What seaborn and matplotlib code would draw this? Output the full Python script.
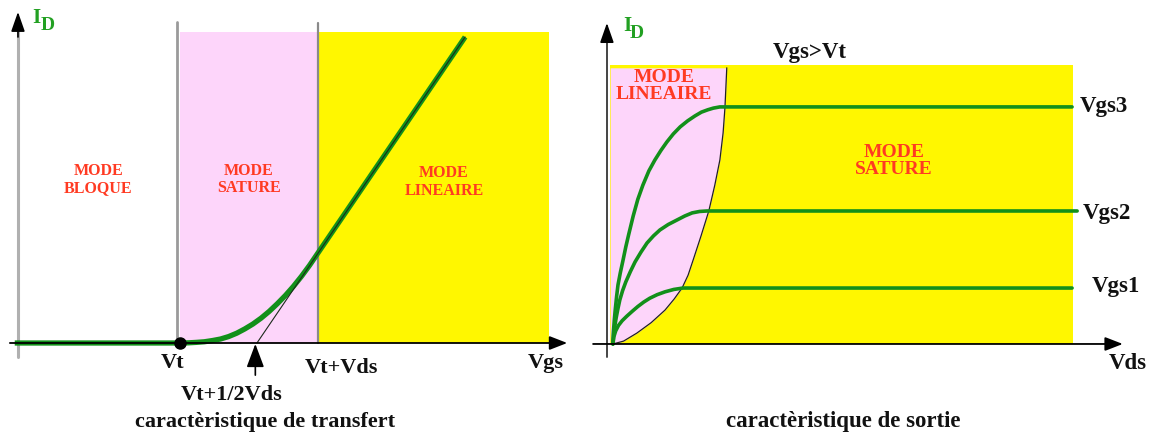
import matplotlib
matplotlib.use("Agg")
import matplotlib.pyplot as plt
import seaborn as sns
import pandas as pd

# --- data (arbitrary units: V and mA) ---
# transfer characteristic  Id = f(Vgs)
vt = 2.0
vds_sat = 1.7
vgs_top = 6.55
region_top = 10.16
transfer_vgs = [-0.04, 2.0, 2.1, 2.2, 2.3, 2.4, 2.5, 2.6, 2.7, 2.8, 2.9, 3.0,
                3.1, 3.2, 3.3, 3.4, 3.5, 3.6, 3.7, 5.52]
transfer_id = [0.0, 0.0, 0.005, 0.02, 0.04, 0.08, 0.13, 0.21, 0.32, 0.46, 0.62, 0.81,
               1.03, 1.28, 1.55, 1.85, 2.18, 2.54, 2.93, 10.0]
tangent_vgs = [2.95, 5.52]
tangent_id = [0.0, 10.0]

# output characteristic  Id = f(Vds) for three Vgs
vds_end = 10.0
out_top = 11.77
curve_names = ["Vgs1", "Vgs2", "Vgs3"]
vgs1_vds = [0.02, 0.04, 0.08, 0.14, 0.22, 0.32, 0.44, 0.56, 0.69, 0.82, 0.98, 1.15, 1.34, 1.54, 9.98]
vgs1_id = [0.0, 0.3, 0.55, 0.78, 0.98, 1.17, 1.38, 1.58, 1.77, 1.93, 2.08, 2.2, 2.3, 2.36, 2.36]
vgs2_vds = [0.02, 0.04, 0.09, 0.13, 0.17, 0.23, 0.30, 0.40, 0.50, 0.63, 0.76, 0.90,
            1.04, 1.22, 1.41, 1.58, 1.74, 1.90, 2.06, 10.09]
vgs2_id = [0.0, 0.5, 1.10, 1.5, 1.86, 2.25, 2.62, 3.06, 3.46, 3.88, 4.26, 4.56,
           4.81, 5.04, 5.23, 5.40, 5.53, 5.59, 5.61, 5.61]
vgs3_vds = [0.02, 0.03, 0.05, 0.07, 0.10, 0.13, 0.18, 0.24, 0.30, 0.36, 0.46, 0.56,
            0.67, 0.80, 0.93, 1.06, 1.19, 1.33, 1.48, 1.64, 1.80, 1.94, 2.08, 2.2, 2.34, 9.98]
vgs3_id = [0.0, 0.5, 1.0, 1.43, 2.0, 2.49, 3.0, 3.54, 4.1, 4.6, 5.4, 6.1,
           6.7, 7.3, 7.76, 8.16, 8.52, 8.86, 9.16, 9.41, 9.62, 9.78, 9.88, 9.95, 10.0, 10.0]
# boundary Vds = Vgs - Vt between linear and saturation modes
limit_vds = [0.02, 0.25, 0.54, 0.85, 1.15, 1.35, 1.52, 1.65, 1.76, 1.93, 2.10,
             2.23, 2.34, 2.41, 2.45, 2.49]
limit_id = [0.0, 0.12, 0.46, 0.9, 1.43, 1.9, 2.36, 2.9, 3.54, 4.55, 5.61,
            6.7, 7.76, 8.9, 9.96, 11.65]

sns.set_theme(style="white")
plt.rcParams["font.family"] = ["Liberation Serif", "DejaVu Serif"]
plt.rcParams["font.weight"] = "bold"

YELLOW = "#fff700"
PINK = "#fdd5fa"
GREEN = "#12901a"
RED = "#ff3a22"

fig = plt.figure(figsize=(11.58, 4.37), dpi=100)
ax1 = fig.add_axes([0, 0, 580 / 1158, 1])
ax2 = fig.add_axes([580 / 1158, 0, 578 / 1158, 1])
for ax in (ax1, ax2):
    ax.set_axis_off()


def arrow(ax, tail, tip, color="black", hl=0.9, hw=0.35, lw=1.2):
    ax.annotate("", xy=tip, xytext=tail, zorder=6,
                arrowprops=dict(arrowstyle=f"-|>,head_length={hl},head_width={hw}",
                                color=color, lw=lw, shrinkA=0, shrinkB=0))


# ---------------- left panel: transfer ----------------
ax1.set_xlim(-0.222, 6.938)
ax1.set_ylim(-3.072, 11.209)

ax1.fill_between([vt, vt + vds_sat], 0, region_top, color=PINK, lw=0, zorder=0)
ax1.fill_between([vt + vds_sat, vgs_top], 0, region_top, color=YELLOW, lw=0, zorder=0)
ax1.plot([vt - 0.04, vt - 0.04], [0, 10.5], color="#9a9a9a", lw=2, zorder=1)
ax1.plot([vt + vds_sat, vt + vds_sat], [0, 10.45], color="#8a8a8a", lw=1.6, zorder=1)

# axes
ax1.plot([0, 0], [-0.46, 10.3], color="#b0b0b0", lw=2.2, zorder=2)
arrow(ax1, (0, 10.0), (0, 10.82), hl=1.0, hw=0.35)
arrow(ax1, (-0.1, 0), (6.78, 0), lw=1.3)

df_t = pd.DataFrame({"Vgs": transfer_vgs, "Id": transfer_id})
sns.lineplot(data=df_t, x="Vgs", y="Id", ax=ax1, sort=False, color=GREEN,
             lw=3.8, solid_capstyle="butt", solid_joinstyle="round", zorder=4)
ax1.plot(tangent_vgs, tangent_id, color="#1a2a1a", lw=0.8, zorder=5)
ax1.plot([vt], [0], "o", color="black", ms=8, zorder=6)

arrow(ax1, (2.93, -1.05), (2.93, -0.03), hl=1.2, hw=0.45, lw=1.2)

lab = dict(fontsize=16, fontweight="bold", ha="center", va="center", color="#111111")
ax1.text(1.91, -0.65, "Vt", **lab)
ax1.text(3.99, -0.82, "Vt+Vds", **lab)
ax1.text(6.52, -0.65, "Vgs", **lab)
ax1.text(2.64, -1.70, "Vt+1/2Vds", **lab)
ax1.text(3.05, -2.58, "caractèristique de transfert", **lab)

mode = dict(fontsize=11.5, fontweight="bold", ha="center", va="center", color=RED, zorder=7)
ax1.text(0.99, 5.62, "MODE", **mode)
ax1.text(0.99, 5.07, "BLOQUE", **mode)
ax1.text(2.85, 5.62, "MODE", **mode)
ax1.text(2.85, 5.07, "SATURE", **mode)
ax1.text(5.26, 5.56, "MODE", **mode)
ax1.text(5.26, 4.97, "LINEAIRE", **mode)

ax1.text(0.17, 10.62, "I", fontsize=15, fontweight="bold", color="#22a022", va="center")
ax1.text(0.28, 10.36, "D", fontsize=14, fontweight="bold", color="#22a022", va="center")

# ---------------- right panel: output ----------------
ax2.set_xlim(-0.694, 11.844)
ax2.set_ylim(-3.924, 14.51)

ax2.fill_between([-0.04, vds_end], 0, out_top, color=YELLOW, lw=0, zorder=0)
ax2.fill_betweenx(limit_id, -0.04, limit_vds, color=PINK, lw=0, zorder=1)
ax2.plot(limit_vds, limit_id, color="#222222", lw=0.9, zorder=2)

ax2.plot([-0.11, -0.11], [-0.55, 13.0], color="#444444", lw=1.4, zorder=3)
arrow(ax2, (-0.11, 12.8), (-0.11, 13.54), hl=1.0, hw=0.35)
arrow(ax2, (-0.41, 0), (11.08, 0), lw=1.3)

rows = []
for name, xs, ys in zip(curve_names, [vgs1_vds, vgs2_vds, vgs3_vds], [vgs1_id, vgs2_id, vgs3_id]):
    rows += [{"curve": name, "Vds": x, "Id": y} for x, y in zip(xs, ys)]
df_o = pd.DataFrame(rows)
sns.lineplot(data=df_o, x="Vds", y="Id", units="curve", estimator=None, sort=False,
             ax=ax2, color=GREEN, lw=2.6, solid_joinstyle="round", zorder=4)

lab2 = dict(fontsize=16.5, fontweight="bold", va="center", color="#111111")
ax2.text(10.15, 10.0, "Vgs3", ha="left", **lab2)
ax2.text(10.22, 5.49, "Vgs2", ha="left", **lab2)
ax2.text(10.41, 2.41, "Vgs1", ha="left", **lab2)
ax2.text(11.19, -0.84, "Vds", ha="center", **lab2)
ax2.text(4.29, 12.28, "Vgs>Vt", ha="center", **lab2)
ax2.text(5.01, -3.29, "caractèristique de sortie", ha="center", **lab2)

mode2 = dict(fontsize=14, fontweight="bold", ha="center", va="center", color=RED, zorder=7)
ax2.text(1.12, 11.22, "MODE", **mode2)
ax2.text(1.12, 10.51, "LINEAIRE", **mode2)
ax2.text(6.12, 8.06, "MODE", **mode2)
ax2.text(6.12, 7.34, "SATURE", **mode2)

ax2.text(0.24, 13.42, "I", fontsize=15, fontweight="bold", color="#22a022", va="center")
ax2.text(0.39, 13.08, "D", fontsize=14, fontweight="bold", color="#22a022", va="center")

fig.savefig("out.png", dpi=100)
